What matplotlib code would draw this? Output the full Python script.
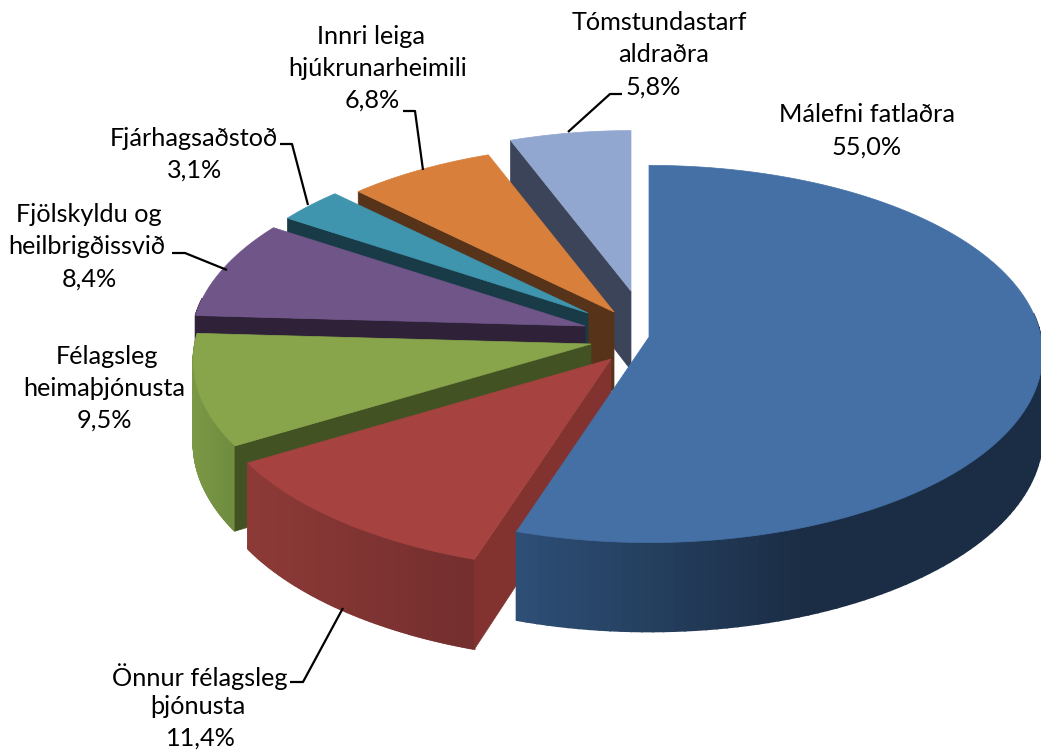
import numpy as np
import matplotlib
matplotlib.use('Agg')
import matplotlib.pyplot as plt
from matplotlib.colors import to_rgb

# Share of each slice (%), clockwise from 12 o'clock
names = ['Málefni fatlaðra', 'Önnur félagsleg þjónusta', 'Félagsleg heimaþjónusta',
         'Fjölskyldu og heilbrigðissvið', 'Fjárhagsaðstoð', 'Innri leiga hjúkrunarheimili',
         'Tómstundastarf aldraðra']
values = [55.0, 11.4, 9.5, 8.4, 3.1, 6.8, 5.8]

# Look of the slices
top_colors = ['#4470a6', '#a64341', '#88a54b', '#705589', '#3f94ae', '#d8803b', '#92a7cf']
face_colors = ['#4470a6', '#82332f', '#435223', '#2e2138', '#183b47', '#57331a', '#3b4459']
rim_left = ['#2e4f77', '#8d3a37', '#7a9845', '#4a3a5c', '#2a6374', '#8c5226', '#5f6d87']
rim_right = ['#1b2d45', '#742f2e', '#6f8c3f', '#4a3a5c', '#2a6374', '#8c5226', '#5f6d87']
rim_span = [290, 215, 40, 1, 1, 1, 1]

# Explosion of each slice in pixels, relative to the big one
shift_x = [0, -38, -58, -64, -61, -35, -18]
shift_y = [0, 22, 7, -11, -24, -25, -46]
# Perspective makes the back slices look a bit smaller
size = [0.995, 1.025, 1.005, 0.995, 0.96, 0.97, 0.93]
center_x, center_y = 649, 337
radius_x, radius_y = 394, 188
persp = 0.09
depth = 81
draw_order = [6, 5, 4, 3, 2, 1, 0]

# Label text, one line at a time
label_lines = [
    ('Málefni fatlaðra', 867, 114), ('55,0%', 867, 147),
    ('Önnur félagsleg', 200, 677), ('þjónusta', 198, 706), ('11,4%', 201, 738),
    ('Félagsleg', 107, 356), ('heimaþjónusta', 104, 388), ('9,5%', 104, 420),
    ('Fjölskyldu og', 89, 215), ('heilbrigðissvið', 87, 247), ('8,4%', 89, 279),
    ('Fjárhagsaðstoð', 194, 138), ('3,1%', 195, 170),
    ('Innri leiga', 371, 36), ('hjúkrunarheimili', 378, 68), ('6,8%', 372, 100),
    ('Tómstundastarf', 659, 23), ('aldraðra', 664, 55), ('5,8%', 653, 87),
]
leaders = [
    ([568, 610, 622], [132, 94, 94]),
    ([423, 415, 403], [170, 111, 111]),
    ([308, 292, 280], [205, 144, 144]),
    ([227, 185, 172], [270, 253, 253]),
    ([343, 303, 290], [608, 682, 682]),
]


def project(ax_x, ax_y, theta, scale):
    u, v = np.sin(theta), np.cos(theta)
    s = scale / (1 + persp * v)
    return ax_x + radius_x * u * s, ax_y - radius_y * v * s


def drop(y):
    return depth * (1 + persp * (y - center_y) / radius_y)


plt.rcParams['font.family'] = ['Lato', 'DejaVu Sans']
fig = plt.figure(figsize=(10.41, 7.51), dpi=100)
ax = fig.add_axes([0, 0, 1, 1])
ax.set_xlim(0, 1041)
ax.set_ylim(751, 0)
ax.axis('off')

angles = np.radians(np.concatenate([[0], np.cumsum(values)]) * 3.6)

for i in draw_order:
    x0 = center_x + shift_x[i]
    y0 = center_y + shift_y[i]
    t = np.linspace(angles[i], angles[i + 1], 140)
    xs, ys = project(x0, y0, t, size[i])
    level = 2 + draw_order.index(i)

    # outer rim, in thin strips so the colour can change
    left = min(xs)
    c0, c1 = np.array(to_rgb(rim_left[i])), np.array(to_rgb(rim_right[i]))
    for j in range(len(t) - 1):
        # the back of the rim is hidden behind the top
        if np.cos(t[j]) > 0.15:
            continue
        k = min(1, (xs[j] - left) / rim_span[i])
        col = c0 + (c1 - c0) * k
        ax.fill([xs[j], xs[j + 1], xs[j + 1], xs[j]],
                [ys[j], ys[j + 1], ys[j + 1] + drop(ys[j + 1]), ys[j] + drop(ys[j])],
                color=col, lw=1.2, zorder=level)

    # cut face at the start of the slice
    ax.fill([x0, xs[0], xs[0], x0],
            [y0, ys[0], ys[0] + drop(ys[0]), y0 + drop(y0)],
            color=face_colors[i], lw=0.5, zorder=level)

    # top of the slice
    ax.fill(np.r_[x0, xs], np.r_[y0, ys], color=top_colors[i], lw=0.5, zorder=level)

for lx, ly in leaders:
    ax.plot(lx, ly, color='black', lw=1.6, zorder=20, solid_capstyle='butt')

for text, x, y in label_lines:
    ax.text(x, y, text, ha='center', va='center', fontsize=18.2, color='black', zorder=30)

fig.savefig('out.png', dpi=100)
